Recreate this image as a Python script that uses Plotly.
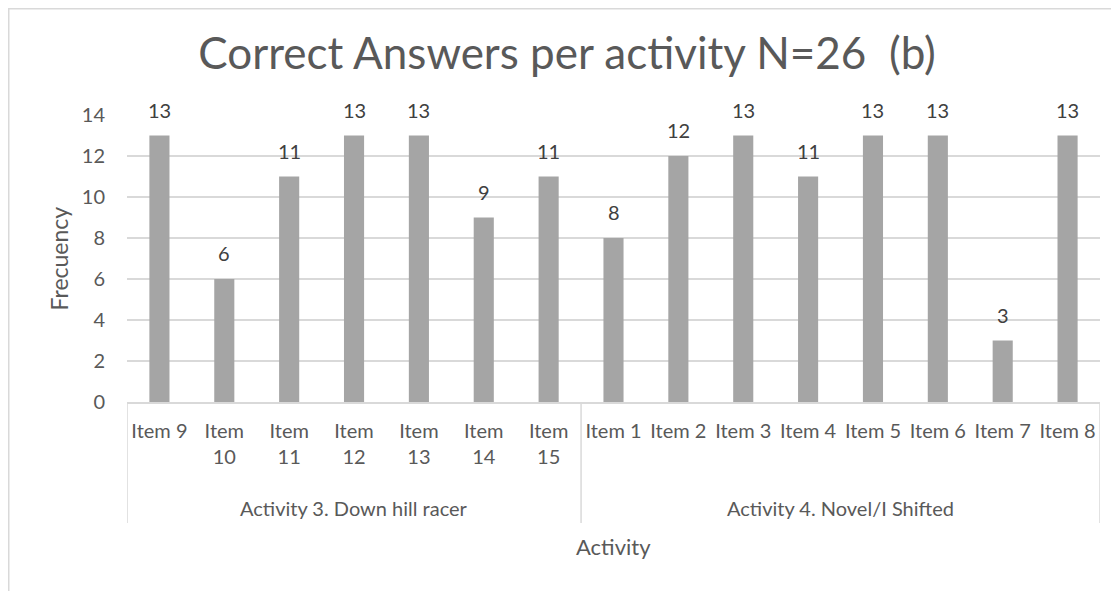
import plotly.graph_objects as go

categories = ["Item 9", "Item 10", "Item 11", "Item 12", "Item 13", "Item 14", "Item 15",
              "Item 1", "Item 2", "Item 3", "Item 4", "Item 5", "Item 6", "Item 7", "Item 8"]
tick_labels = ["Item 9", "Item<br>10", "Item<br>11", "Item<br>12", "Item<br>13", "Item<br>14", "Item<br>15",
               "Item 1", "Item 2", "Item 3", "Item 4", "Item 5", "Item 6", "Item 7", "Item 8"]
values = [13, 6, 11, 13, 13, 9, 11, 8, 12, 13, 11, 13, 13, 3, 13]
groups = ["Activity 3. Down hill racer", "Activity 4. Novel/I Shifted"]
group_sizes = [7, 8]

FONT = "Lato"
TXT = "#595959"
LINE = "#D9D9D9"

W, H = 1111, 583
L, T, PW, PH = 119, 107, 973, 287

fig = go.Figure()
fig.add_trace(go.Bar(x=categories, y=values, marker=dict(color="#A5A5A5", line=dict(width=0)),
                     width=0.31, showlegend=False, hoverinfo="x+y"))

annotations = []
for c, v in zip(categories, values):
    annotations.append(dict(x=c, y=v, xref="x", yref="y", text=str(v), showarrow=False,
                            yanchor="bottom", yshift=12, font=dict(family=FONT, size=20, color="#404040")))

shapes = []
start = 0
for g, n in zip(groups, group_sizes):
    annotations.append(dict(x=start + (n - 1) / 2, y=-0.37, xref="x", yref="paper", text=g,
                            showarrow=False, yanchor="middle", font=dict(family=FONT, size=20, color=TXT)))
    shapes.append(dict(type="line", xref="x", yref="paper", x0=start - 0.5, x1=start - 0.5,
                       y0=0, y1=-0.4216, line=dict(color=LINE, width=1.5)))
    start += n
shapes.append(dict(type="line", xref="x", yref="paper", x0=start - 0.5, x1=start - 0.5,
                   y0=0, y1=-0.4216, line=dict(color=LINE, width=1.5)))
# outer chart border
shapes.append(dict(type="rect", xref="paper", yref="paper",
                   x0=(0.75 - L) / PW, x1=1.2, y0=-1.0, y1=(PH + T - 0.75) / PH,
                   line=dict(color=LINE, width=1.5), layer="below"))

annotations.append(dict(x=0.5, y=-0.505, xref="paper", yref="paper", text="Activity", showarrow=False,
                        yanchor="middle", font=dict(family=FONT, size=22, color=TXT)))
annotations.append(dict(x=0, xshift=-69, y=0.5, xref="paper", yref="paper", text="Frecuency",
                        showarrow=False, textangle=-90, xanchor="center", yanchor="middle",
                        font=dict(family=FONT, size=23, color=TXT)))

fig.update_layout(
    width=W, height=H, autosize=False,
    margin=dict(l=L, r=W - L - PW, t=T, b=H - T - PH),
    paper_bgcolor="white", plot_bgcolor="white",
    title=dict(text="Correct Answers per activity N=26  (b)", x=(567 - 8 - L) / PW, xref="paper",
               xanchor="center", y=1 - 46 / H, yref="container", yanchor="middle",
               font=dict(family=FONT, size=44, color=TXT)),
    xaxis=dict(type="category", tickmode="array", tickvals=categories, ticktext=tick_labels,
               tickfont=dict(family=FONT, size=20, color=TXT), showline=True, linecolor=LINE,
               linewidth=1.5, showgrid=False, ticks="", range=[-0.5, 14.5],
               ticklabelstandoff=10),
    yaxis=dict(range=[0, 14], dtick=2, tick0=0, showgrid=True, gridcolor=LINE, gridwidth=1.5,
               zeroline=False, showline=False, tickfont=dict(family=FONT, size=20, color=TXT),
               ticklabelstandoff=21),
    annotations=annotations, shapes=shapes, bargap=0.69,
)

fig.write_html("out.html")
